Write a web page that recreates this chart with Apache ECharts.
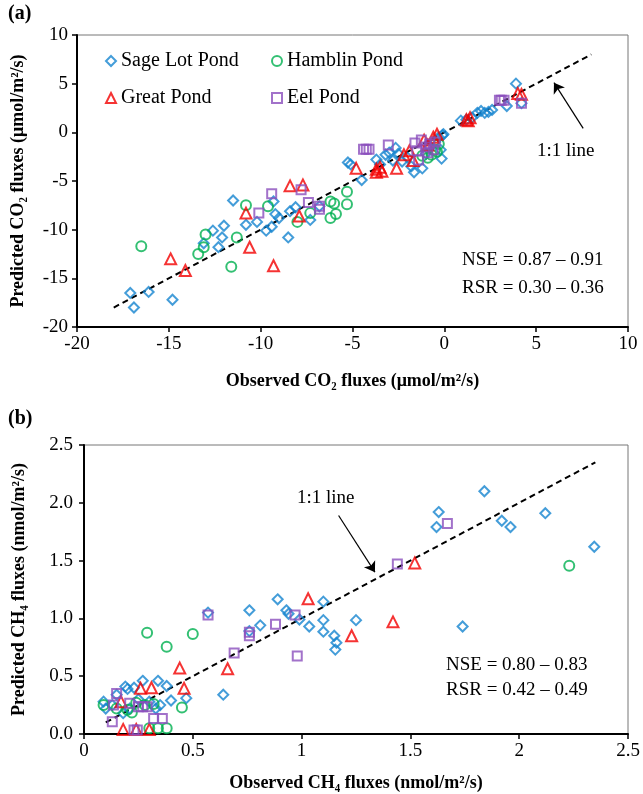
<!DOCTYPE html>
<html>
<head>
    <meta charset="utf-8">
    <title>Observed vs predicted fluxes</title>
    <script src="https://cdn.jsdelivr.net/npm/echarts@6/dist/echarts.min.js"></script>
    <style>
        body { margin: 0; background: #fff; }
        #main { width: 643px; height: 794px; }
    </style>
</head>
<body>
<div id="main"></div>
<script type="text/javascript">
    // ---- (a) CO2 fluxes: [observed, predicted] ----
    var co2Sage = [[-17.1,-16.5],[-16.9,-18.0],[-16.1,-16.4],[-14.8,-17.2],[-13.1,-11.4],[-12.6,-10.1],[-12.0,-9.6],
        [-12.1,-10.8],[-12.3,-11.8],[-11.5,-7.0],[-10.8,-9.5],[-10.2,-9.2],[-9.7,-10.1],[-9.4,-9.7],[-9.2,-8.4],
        [-9.0,-8.8],[-9.3,-7.1],[-8.4,-8.1],[-8.1,-7.7],[-8.5,-10.8],[-7.3,-9.0],[-6.8,-7.6],[-5.25,-3.1],[-5.1,-3.3],
        [-4.5,-4.9],[-3.7,-2.8],[-3.2,-2.3],[-3.0,-2.1],[-2.8,-2.9],[-2.65,-1.6],[-2.3,-3.0],[-2.0,-2.6],[-1.8,-3.5],
        [-1.65,-4.1],[-1.2,-3.7],[-1.0,-2.2],[-0.8,-1.5],[-0.5,-1.0],[-0.3,-0.5],[-0.05,-0.2],[-0.15,-2.7],[-0.2,-1.8],
        [-0.1,-0.3],[0.9,1.2],[1.5,1.5],[1.8,2.0],[2.0,2.2],[2.2,2.0],[2.4,2.1],[2.6,2.3],[3.4,2.7],[3.9,5.0],
        [4.2,3.0],[1.2,1.3],[-3.5,-3.3],[-2.5,-2.2]];
    var co2Hamblin = [[-16.5,-11.7],[-13.0,-10.5],[-13.1,-11.8],[-13.4,-12.5],[-11.3,-10.8],[-10.8,-7.5],[-9.6,-7.6],
        [-11.6,-13.8],[-8.0,-9.2],[-7.3,-8.3],[-6.2,-7.1],[-6.0,-7.3],[-5.9,-8.4],[-6.2,-8.8],[-5.3,-6.1],[-5.3,-7.4],
        [-0.7,-2.3],[-0.5,-1.8],[-0.3,-1.2],[-0.9,-2.6],[-0.4,-2.0],[-1.2,-2.4]];
    var co2Great = [[-14.9,-13.0],[-14.1,-14.2],[-10.8,-8.3],[-10.6,-11.8],[-9.3,-13.7],[-8.4,-5.5],[-7.7,-5.4],
        [-7.9,-8.6],[-4.8,-3.7],[-3.7,-3.8],[-3.7,-4.1],[-3.5,-3.6],[-3.4,-4.0],[-2.6,-3.7],[-1.9,-1.9],[-1.7,-2.9],
        [-1.1,-0.8],[-0.4,-0.2],[-0.6,-0.5],[-0.9,-1.3],[1.2,1.3],[1.3,1.2],[1.4,1.5],[4.0,4.0],[4.2,3.9],[-2.2,-2.3]];
    var co2Eel = [[-9.4,-6.3],[-10.1,-8.3],[-7.8,-5.9],[-7.4,-7.2],[-6.8,-7.6],[-6.8,-7.9],[-4.4,-1.75],[-4.1,-1.75],
        [-4.25,-1.75],[-3.05,-1.3],[-1.6,-1.1],[-1.25,-0.8],[-1.0,-1.5],[-0.8,-1.2],[-0.6,-1.8],[-0.9,-2.1],[-1.4,-2.85],
        [-0.5,-1.0],[-1.5,-1.9],[3.0,3.3],[3.25,3.3],[3.1,3.3],[4.2,3.0]];
    var co2OneToOne = [[-18,-18],[8,8]];
    var co2Arrow = [[7.56,0.4],[5.97,5.1]];

    // ---- (b) CH4 fluxes: [observed, predicted] ----
    var ch4Sage = [[0.09,0.28],[0.15,0.34],[0.19,0.41],[0.2,0.39],[0.23,0.40],[0.27,0.46],[0.34,0.46],[0.38,0.415],
        [0.40,0.29],[0.47,0.31],[0.35,0.25],[0.33,0.22],[0.18,0.18],[0.13,0.25],[0.57,1.05],[0.64,0.34],[0.76,1.07],
        [0.76,0.89],[0.81,0.94],[0.89,1.165],[0.93,1.07],[0.94,1.04],[0.99,0.99],[1.035,0.93],[1.10,1.145],[1.10,0.985],
        [1.10,0.885],[1.15,0.85],[1.16,0.79],[1.155,0.73],[1.25,0.985],[1.74,0.93],[1.63,1.92],[1.62,1.79],[1.84,2.10],
        [1.92,1.845],[1.96,1.79],[2.12,1.91],[2.345,1.62],[0.25,0.3],[0.3,0.28],[0.1,0.22],[0.21,0.22]];
    var ch4Hamblin = [[0.29,0.875],[0.50,0.865],[0.38,0.755],[0.45,0.23],[0.09,0.25],[0.22,0.185],[0.24,0.27],
        [0.28,0.25],[0.32,0.26],[0.34,0.05],[0.38,0.05],[0.30,0.05],[2.23,1.455],[0.2,0.21],[0.15,0.22]];
    var ch4Great = [[1.03,1.17],[1.23,0.85],[1.42,0.97],[1.52,1.48],[0.44,0.57],[0.66,0.565],[0.46,0.395],[0.26,0.395],
        [0.31,0.40],[0.17,0.28],[0.18,0.04],[0.24,0.04],[0.30,0.04]];
    var ch4Eel = [[0.57,1.03],[0.69,0.70],[0.76,0.88],[0.76,0.85],[0.88,0.95],[0.97,1.03],[0.98,0.675],[0.15,0.35],
        [0.135,0.25],[0.13,0.105],[0.21,0.265],[0.25,0.235],[0.27,0.235],[0.29,0.235],[0.32,0.135],[0.36,0.135],
        [0.23,0.035],[0.245,0.035],[1.44,1.47],[1.67,1.82]];
    var ch4OneToOne = [[0.1,0.1],[2.35,2.35]];
    var ch4Arrow = [[1.17,1.89],[1.337,1.40]];

    var ponds = ['Sage Lot Pond', 'Hamblin Pond', 'Great Pond', 'Eel Pond'];
    var colors = ['#1585d0', '#00b050', '#f20000', '#8b4fbd'];
    var symbols = ['diamond', 'circle', 'triangle', 'rect'];
    var sizes = [10, 10, 11, 9];

    var font = '"Liberation Serif", "Times New Roman", serif';

    var myChart = echarts.init(document.getElementById('main'));

    function pondSeries(idx, data, axis) {
        return {
            name: ponds[idx],
            type: 'scatter',
            xAxisIndex: axis,
            yAxisIndex: axis,
            symbol: symbols[idx],
            symbolSize: sizes[idx],
            itemStyle: {color: 'rgba(255,255,255,0)', borderColor: colors[idx], borderWidth: 2},
            data: data,
            z: 3
        };
    }

    function oneToOne(data, axis) {
        return {
            type: 'line',
            xAxisIndex: axis,
            yAxisIndex: axis,
            data: data,
            symbol: 'none',
            lineStyle: {color: '#000', width: 2, type: [6, 4]},
            z: 2
        };
    }

    function arrow(data, axis) {
        return {
            type: 'lines',
            coordinateSystem: 'cartesian2d',
            xAxisIndex: axis,
            yAxisIndex: axis,
            symbol: ['none', 'arrow'],
            symbolSize: 10,
            lineStyle: {color: '#000', width: 1.2, opacity: 1},
            data: [{coords: data}],
            z: 4
        };
    }

    var axisCommon = {
        axisLine: {show: true, onZero: false, lineStyle: {color: '#000', width: 2}},
        axisTick: {show: true, inside: false, length: 5, lineStyle: {color: '#000', width: 1.5}},
        splitLine: {show: false},
        axisLabel: {color: '#000', fontFamily: font, fontSize: 19},
        nameLocation: 'middle',
        nameTextStyle: {color: '#000', fontFamily: font, fontSize: 18, fontWeight: 'bold'}
    };

    // legend icons come from the library; labels are drawn as plain text so they keep the serif face
    function legendAt(name, left, top) {
        return {
            data: [name],
            left: left,
            top: top,
            itemWidth: 10,
            itemHeight: 10,
            selectedMode: false,
            formatter: function () { return ''; }
        };
    }

    function label(text, left, top) {
        return {type: 'text', left: left, top: top, style: {text: text, font: '19px ' + font, fill: '#000'}};
    }

    var option = {
        animation: false,
        textStyle: {fontFamily: font},
        grid: [
            {left: 77, right: 15, top: 35, bottom: 467, show: true, borderColor: '#777', borderWidth: 1},
            {left: 84, right: 15, top: 445, bottom: 60, show: true, borderColor: '#777', borderWidth: 1}
        ],
        xAxis: [
            echarts.util.merge({
                type: 'value', gridIndex: 0, min: -20, max: 10, interval: 5,
                name: 'Observed CO₂ fluxes (μmol/m²/s)', nameGap: 45
            }, axisCommon, false),
            echarts.util.merge({
                type: 'value', gridIndex: 1, min: 0, max: 2.5, interval: 0.5,
                name: 'Observed CH₄ fluxes (nmol/m²/s)', nameGap: 40,
                axisLabel: {formatter: function (v) { return v === 0 ? '0' : String(v); }}
            }, axisCommon, false)
        ],
        yAxis: [
            echarts.util.merge({
                type: 'value', gridIndex: 0, min: -20, max: 10, interval: 5,
                name: 'Predicted CO₂ fluxes (μmol/m²/s)', nameGap: 50,
                axisLabel: {margin: 9}
            }, axisCommon, false),
            echarts.util.merge({
                type: 'value', gridIndex: 1, min: 0, max: 2.5, interval: 0.5,
                name: 'Predicted CH₄ fluxes (nmol/m²/s)', nameGap: 56,
                axisLabel: {margin: 11, formatter: function (v) { return v.toFixed(1); }}
            }, axisCommon, false)
        ],
        legend: [
            legendAt(ponds[0], 100, 50),
            legendAt(ponds[1], 266, 50),
            legendAt(ponds[2], 100, 87),
            legendAt(ponds[3], 266, 87)
        ],
        graphic: [
            {type: 'text', left: 8, top: 4, style: {text: '(a)', font: 'bold 20px ' + font, fill: '#000'}},
            {type: 'text', left: 8, top: 409, style: {text: '(b)', font: 'bold 20px ' + font, fill: '#000'}},
            {type: 'text', left: 121, top: 51, style: {text: ponds[0], font: '20px ' + font, fill: '#000'}},
            {type: 'text', left: 287, top: 51, style: {text: ponds[1], font: '20px ' + font, fill: '#000'}},
            {type: 'text', left: 121, top: 88, style: {text: ponds[2], font: '20px ' + font, fill: '#000'}},
            {type: 'text', left: 287, top: 88, style: {text: ponds[3], font: '20px ' + font, fill: '#000'}},
            label('1:1 line', 537, 142),
            label('1:1 line', 297, 489),
            label('NSE = 0.87 – 0.91', 462, 251),
            label('RSR = 0.30 – 0.36', 462, 279),
            label('NSE = 0.80 – 0.83', 446, 656),
            label('RSR = 0.42 – 0.49', 446, 681)
        ],
        series: [
            oneToOne(co2OneToOne, 0),
            oneToOne(ch4OneToOne, 1),
            pondSeries(0, co2Sage, 0),
            pondSeries(1, co2Hamblin, 0),
            pondSeries(2, co2Great, 0),
            pondSeries(3, co2Eel, 0),
            pondSeries(0, ch4Sage, 1),
            pondSeries(1, ch4Hamblin, 1),
            pondSeries(2, ch4Great, 1),
            pondSeries(3, ch4Eel, 1),
            arrow(co2Arrow, 0),
            arrow(ch4Arrow, 1)
        ]
    };

    myChart.setOption(option);
</script>
</body>
</html>
